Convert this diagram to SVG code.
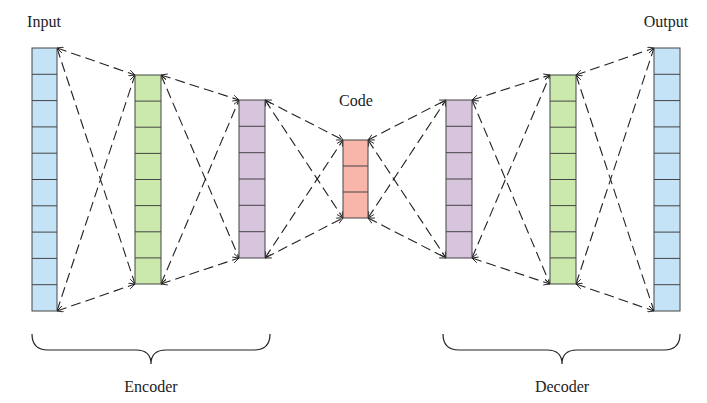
<svg xmlns="http://www.w3.org/2000/svg" width="707" height="403" viewBox="0 0 707 403">
<style>
.t{font-family:"Liberation Serif",serif;font-size:16px;fill:#222;text-anchor:middle}
.c{stroke:#444;stroke-width:1}
.e{stroke:#222;stroke-width:1.1;stroke-dasharray:10,5;fill:none;marker-start:url(#a);marker-end:url(#a)}
.b{fill:none;stroke:#222;stroke-width:1.2}
</style>
<defs>
<marker id="a" viewBox="0 0 8 8" refX="7" refY="4" markerWidth="7" markerHeight="7" orient="auto-start-reverse" markerUnits="userSpaceOnUse"><path d="M0,0.5 L7,4 L0,7.5" fill="none" stroke="#222" stroke-width="1"/></marker>
</defs>
<rect width="707" height="403" fill="#fff"/>
<g id="connectors">
<line class="e" x1="57" y1="48" x2="135" y2="75"/><line class="e" x1="57" y1="48" x2="135" y2="284"/>
<line class="e" x1="57" y1="311" x2="135" y2="75"/><line class="e" x1="57" y1="311" x2="135" y2="284"/>
<line class="e" x1="161" y1="75" x2="239" y2="100"/><line class="e" x1="161" y1="75" x2="239" y2="258"/>
<line class="e" x1="161" y1="284" x2="239" y2="100"/><line class="e" x1="161" y1="284" x2="239" y2="258"/>
<line class="e" x1="265" y1="100" x2="343" y2="140"/><line class="e" x1="265" y1="100" x2="343" y2="218"/>
<line class="e" x1="265" y1="258" x2="343" y2="140"/><line class="e" x1="265" y1="258" x2="343" y2="218"/>
<line class="e" x1="368" y1="140" x2="446" y2="100"/><line class="e" x1="368" y1="140" x2="446" y2="258"/>
<line class="e" x1="368" y1="218" x2="446" y2="100"/><line class="e" x1="368" y1="218" x2="446" y2="258"/>
<line class="e" x1="472" y1="100" x2="550" y2="75"/><line class="e" x1="472" y1="100" x2="550" y2="284"/>
<line class="e" x1="472" y1="258" x2="550" y2="75"/><line class="e" x1="472" y1="258" x2="550" y2="284"/>
<line class="e" x1="576" y1="75" x2="654" y2="48"/><line class="e" x1="576" y1="75" x2="654" y2="311"/>
<line class="e" x1="576" y1="284" x2="654" y2="48"/><line class="e" x1="576" y1="284" x2="654" y2="311"/>
</g>
<g id="input">
<rect class="c" x="32" y="48" width="25" height="263" fill="#c5e3f6"/>
<path class="c" d="M32,74.3h25M32,100.6h25M32,126.9h25M32,153.2h25M32,179.5h25M32,205.8h25M32,232.1h25M32,258.4h25M32,284.7h25"/>
<text class="t" x="44" y="27">Input</text>
</g>
<g id="enc1">
<rect class="c" x="135" y="75" width="26" height="209" fill="#cce9ad"/>
<path class="c" d="M135,101.1h26M135,127.2h26M135,153.4h26M135,179.5h26M135,205.6h26M135,231.8h26M135,257.9h26"/>
</g>
<g id="enc2">
<rect class="c" x="239" y="100" width="26" height="158" fill="#d7c4dd"/>
<path class="c" d="M239,126.3h26M239,152.7h26M239,179h26M239,205.3h26M239,231.7h26"/>
</g>
<g id="code">
<rect class="c" x="343" y="140" width="25" height="78" fill="#f8b6ab"/>
<path class="c" d="M343,166h25M343,192h25"/>
<text class="t" x="356" y="106">Code</text>
</g>
<g id="dec1">
<rect class="c" x="446" y="100" width="26" height="158" fill="#d7c4dd"/>
<path class="c" d="M446,126.3h26M446,152.7h26M446,179h26M446,205.3h26M446,231.7h26"/>
</g>
<g id="dec2">
<rect class="c" x="550" y="75" width="26" height="209" fill="#cce9ad"/>
<path class="c" d="M550,101.1h26M550,127.2h26M550,153.4h26M550,179.5h26M550,205.6h26M550,231.8h26M550,257.9h26"/>
</g>
<g id="output">
<rect class="c" x="654" y="48" width="26" height="263" fill="#c5e3f6"/>
<path class="c" d="M654,74.3h26M654,100.6h26M654,126.9h26M654,153.2h26M654,179.5h26M654,205.8h26M654,232.1h26M654,258.4h26M654,284.7h26"/>
<text class="t" x="666" y="27">Output</text>
</g>
<g id="encoder">
<path class="b" d="M32,334 Q32,350 48,350 H136 Q151,350 151,364 Q151,350 166,350 H254 Q270,350 270,334"/>
<text class="t" x="151" y="392">Encoder</text>
</g>
<g id="decoder">
<path class="b" d="M443,334 Q443,350 459,350 H547 Q562,350 562,364 Q562,350 577,350 H664 Q680,350 680,334"/>
<text class="t" x="562" y="392">Decoder</text>
</g>
</svg>
